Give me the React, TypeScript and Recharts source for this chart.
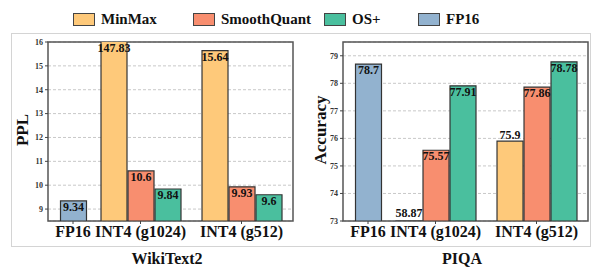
import React from "react";
import {
  Bar,
  BarChart,
  CartesianGrid,
  Cell,
  LabelList,
  ReferenceArea,
  XAxis,
  YAxis,
} from "recharts";

const FONT = '"Liberation Serif", "DejaVu Serif", Times, serif';

const GROUPS = ["FP16", "INT4 (g1024)", "INT4 (g512)"];
const METHODS = ["MinMax", "SmoothQuant", "OS+", "FP16"];

const COLORS: Record<string, string> = {
  MinMax: "#FEC97A",
  SmoothQuant: "#F88E6F",
  "OS+": "#4ABF9E",
  FP16: "#92B2CF",
};

// WikiText2 perplexity
const WIKI_MINMAX = [null, 147.83, 15.64];
const WIKI_SMOOTHQUANT = [null, 10.6, 9.93];
const WIKI_OSPLUS = [null, 9.84, 9.6];
const WIKI_FP16 = [9.34, null, null];
const WIKI_TICKS = [9, 10, 11, 12, 13, 14, 15, 16];

// PIQA accuracy
const PIQA_MINMAX = [null, 58.87, 75.9];
const PIQA_SMOOTHQUANT = [null, 75.57, 77.86];
const PIQA_OSPLUS = [null, 77.91, 78.78];
const PIQA_FP16 = [78.7, null, null];
const PIQA_TICKS = [73, 74, 75, 76, 77, 78, 79];

// layout: group centres on the x axis, in bar widths
const GROUP_X = [0.926, 3.426, 7.167];
const X_DOMAIN = [0, 9.074];
const PLOT_TOP = 42;
const PLOT_BOTTOM = 221;

type Row = { x: number; v: number; method: string; group: string };

function buildRows(series: Record<string, (number | null)[]>): Row[] {
  const rows: Row[] = [];
  GROUPS.forEach((g, gi) => {
    const present = METHODS.filter((m) => series[m][gi] != null);
    present.forEach((m, i) => {
      rows.push({
        x: GROUP_X[gi] + i - (present.length - 1) / 2,
        v: series[m][gi] as number,
        method: m,
        group: g,
      });
    });
  });
  return rows;
}

const wikiRows = buildRows({
  MinMax: WIKI_MINMAX,
  SmoothQuant: WIKI_SMOOTHQUANT,
  "OS+": WIKI_OSPLUS,
  FP16: WIKI_FP16,
});
const piqaRows = buildRows({
  MinMax: PIQA_MINMAX,
  SmoothQuant: PIQA_SMOOTHQUANT,
  "OS+": PIQA_OSPLUS,
  FP16: PIQA_FP16,
});

function Panel({
  rows,
  domain,
  ticks,
  left,
  margin,
  labelAbove = [],
}: {
  rows: Row[];
  domain: [number, number];
  ticks: number[];
  left: number;
  margin: { top: number; right: number; bottom: number; left: number };
  labelAbove?: string[];
}) {
  const renderLabel = (p: any) => {
    const vb = p.viewBox ?? p;
    const row = rows[p.index];
    if (!row) return null;
    const cx = vb.x + vb.width / 2;
    const barTop = Math.min(vb.y, vb.y + vb.height);
    let cy: number;
    if (row.v < domain[0]) cy = PLOT_BOTTOM - 8;
    else if (labelAbove.includes(row.group + "|" + row.method)) cy = barTop - 6;
    else cy = Math.max(barTop, PLOT_TOP) + 6;
    return (
      <text
        x={cx}
        y={cy}
        textAnchor="middle"
        dominantBaseline="central"
        fontFamily={FONT}
        fontWeight="bold"
        fontSize={12}
        fill="#111"
      >
        {row.v}
      </text>
    );
  };

  return (
    <div style={{ position: "absolute", left, top: 0 }}>
      <BarChart width={297} height={267} data={rows} margin={margin}>
        <CartesianGrid
          vertical={false}
          stroke="#c8c8c8"
          strokeDasharray="3 2"
        />
        <XAxis
          dataKey="x"
          type="number"
          domain={X_DOMAIN}
          ticks={GROUP_X}
          interval={0}
          height={46}
          axisLine={false}
          tickSize={3}
          tickMargin={2}
          tickLine={{ stroke: "#444" }}
          tickFormatter={(v: number) => GROUPS[GROUP_X.indexOf(v)] ?? ""}
          tick={{
            fill: "#111",
            fontSize: 16,
            fontWeight: "bold",
            fontFamily: FONT,
          }}
        />
        <YAxis
          type="number"
          domain={domain}
          ticks={ticks}
          allowDataOverflow
          width={30}
          axisLine={false}
          tickSize={3}
          tickMargin={2}
          tickLine={{ stroke: "#444" }}
          tick={{
            fill: "#333",
            fontSize: 8,
            fontWeight: "bold",
            fontFamily: FONT,
          }}
        />
        <Bar
          dataKey="v"
          barSize={26}
          stroke="#333"
          strokeWidth={1.2}
          isAnimationActive={false}
        >
          {rows.map((r, i) => (
            <Cell key={i} fill={COLORS[r.method]} />
          ))}
          <LabelList dataKey="v" content={renderLabel} />
        </Bar>
        <ReferenceArea
          x1={X_DOMAIN[0]}
          x2={X_DOMAIN[1]}
          y1={domain[0]}
          y2={domain[1]}
          fill="none"
          stroke="#555"
          strokeWidth={1.5}
          ifOverflow="visible"
        />
      </BarChart>
    </div>
  );
}

const LEGEND_X = [73, 193, 324, 418];

function Title({
  x,
  y,
  text,
  rotate = false,
  size = 16,
}: {
  x: number;
  y: number;
  text: string;
  rotate?: boolean;
  size?: number;
}) {
  return (
    <div
      style={{
        position: "absolute",
        left: x,
        top: y,
        transform: `translate(-50%, -50%)${rotate ? " rotate(-90deg)" : ""}`,
        fontFamily: FONT,
        fontWeight: "bold",
        fontSize: size,
        lineHeight: "14px",
        whiteSpace: "nowrap",
        color: "#111",
      }}
    >
      {text}
    </div>
  );
}

export default function App() {
  return (
    <div
      style={{
        position: "absolute",
        left: 0,
        top: 0,
        width: 594,
        height: 267,
        background: "#fff",
        overflow: "hidden",
      }}
    >
      <div
        style={{
          position: "absolute",
          left: 11,
          top: 33,
          width: 580,
          height: 214,
          border: "1px solid #d4d4d4",
          boxSizing: "border-box",
        }}
      />
      <Panel
        rows={wikiRows}
        domain={[8.5, 16]}
        ticks={WIKI_TICKS}
        left={0}
        margin={{ top: PLOT_TOP, right: 4, bottom: 0, left: 18 }}
      />
      <Panel
        rows={piqaRows}
        domain={[73, 79.5]}
        ticks={PIQA_TICKS}
        left={297}
        margin={{ top: PLOT_TOP, right: 6, bottom: 0, left: 16 }}
        labelAbove={["INT4 (g512)|MinMax"]}
      />
      <Title x={23} y={130} text="PPL" rotate size={17} />
      <Title x={321} y={130} text="Accuracy" rotate size={17} />
      <Title x={167} y={259} text="WikiText2" />
      <Title x={462} y={259} text="PIQA" />
      {METHODS.map((m, i) => (
        <div
          key={m}
          style={{
            position: "absolute",
            left: LEGEND_X[i],
            top: 11,
            height: 16,
            display: "flex",
            alignItems: "center",
            fontFamily: FONT,
            fontWeight: "bold",
            fontSize: 15,
            color: "#111",
            whiteSpace: "nowrap",
          }}
        >
          <span
            style={{
              display: "inline-block",
              width: 22,
              height: 13,
              background: COLORS[m],
              border: "1px solid #444",
              boxSizing: "border-box",
              marginRight: 6,
            }}
          />
          {m}
        </div>
      ))}
    </div>
  );
}
